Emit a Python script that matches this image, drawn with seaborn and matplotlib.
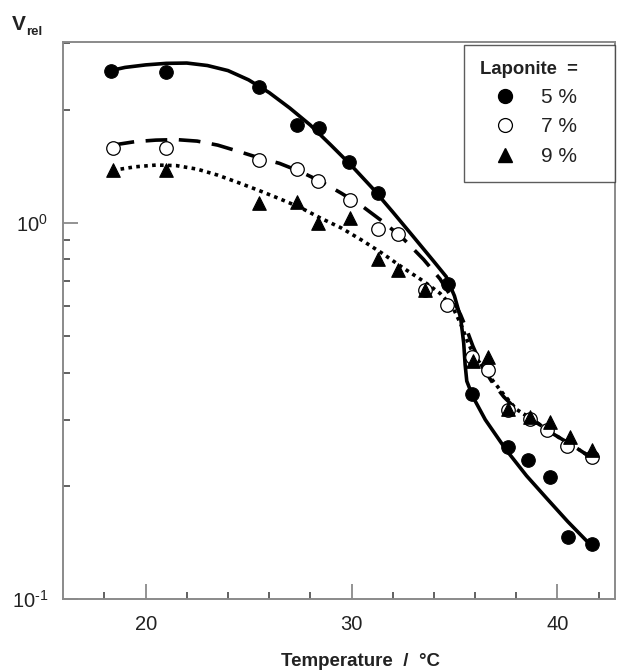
import numpy as np
import pandas as pd
import matplotlib
matplotlib.use("Agg")
import matplotlib.pyplot as plt
from matplotlib.lines import Line2D
from matplotlib.ticker import FixedLocator, NullFormatter
import seaborn as sns

# ---------------- data ----------------
t5 = [18.33, 21.0, 25.5, 27.36, 28.43, 29.9, 31.3, 34.7, 35.83, 37.62, 38.59, 39.64, 40.53, 41.67]
v5 = [2.54, 2.52, 2.30, 1.82, 1.79, 1.45, 1.20, 0.69, 0.352, 0.254, 0.234, 0.211, 0.146, 0.140]

t7 = [18.41, 20.97, 25.51, 27.36, 28.38, 29.92, 31.29, 32.27, 33.56, 34.62, 35.83, 36.64, 37.62, 38.67, 39.48, 40.45, 41.67]
v7 = [1.58, 1.58, 1.47, 1.39, 1.29, 1.15, 0.966, 0.937, 0.662, 0.604, 0.44, 0.406, 0.318, 0.302, 0.281, 0.256, 0.239]

t9 = [18.41, 20.97, 25.51, 27.36, 28.38, 29.92, 31.29, 32.27, 33.56, 35.91, 36.64, 37.62, 38.67, 39.64, 40.61, 41.67]
v9 = [1.38, 1.38, 1.13, 1.14, 1.00, 1.03, 0.804, 0.749, 0.662, 0.431, 0.44, 0.32, 0.305, 0.296, 0.270, 0.249]

# fitted curves
ct5 = [18.3, 19.0, 20.0, 21.0, 22.0, 23.0, 24.0, 25.0, 26.0, 27.0, 28.0, 29.0, 30.0, 31.0, 32.0, 33.0,
       34.0, 34.6, 35.0, 35.3, 35.45, 35.52, 35.6, 35.9, 36.5, 37.5, 38.5, 39.5, 40.5, 41.75]
cv5 = [2.54, 2.59, 2.63, 2.655, 2.66, 2.62, 2.54, 2.40, 2.22, 2.02, 1.82, 1.61, 1.42, 1.24, 1.07, 0.92,
       0.79, 0.72, 0.64, 0.56, 0.48, 0.42, 0.38, 0.345, 0.30, 0.25, 0.213, 0.185, 0.161, 0.137]

ct7 = [18.4, 19.5, 20.5, 21.5, 22.5, 23.5, 24.5, 25.5, 26.5, 27.5, 28.5, 29.5, 30.5, 31.5, 32.5, 33.5,
       34.3, 34.9, 35.3, 35.6, 35.9, 36.3, 36.8, 37.4, 38.0, 38.8, 39.8, 40.8, 41.75]
cv7 = [1.61, 1.645, 1.66, 1.665, 1.65, 1.61, 1.55, 1.49, 1.44, 1.37, 1.29, 1.20, 1.11, 1.01, 0.91, 0.80,
       0.71, 0.63, 0.57, 0.52, 0.47, 0.42, 0.38, 0.345, 0.32, 0.30, 0.275, 0.255, 0.236]

ct9 = [18.4, 19.5, 20.5, 21.5, 22.5, 23.5, 24.5, 25.5, 26.5, 27.5, 28.5, 29.5, 30.5, 31.5, 32.5, 33.5,
       34.3, 34.9, 35.3, 35.6, 35.9, 36.3, 36.8, 37.4, 38.0, 38.8, 39.8, 40.8, 41.75]
cv9 = [1.38, 1.41, 1.425, 1.42, 1.39, 1.34, 1.28, 1.22, 1.16, 1.10, 1.03, 0.97, 0.90, 0.83, 0.76, 0.70,
       0.65, 0.60, 0.54, 0.49, 0.45, 0.42, 0.385, 0.35, 0.32, 0.30, 0.275, 0.255, 0.236]

legend_labels = ["5 %", "7 %", "9 %"]
legend_title = "Laponite  ="
xlabel = "Temperature  /  °C"
xticks = [20, 30, 40]
yticks = [0.1, 1.0]
ytick_labels = [r"10$^{\text{-}1}$", "10$^{0}$"]

# ---------------- figure ----------------
sns.set_theme(style="white")
plt.rcParams["font.family"] = ["Liberation Sans", "DejaVu Sans"]
plt.rcParams["mathtext.fontset"] = "custom"
plt.rcParams["mathtext.rm"] = "Liberation Sans"
plt.rcParams["mathtext.it"] = "Liberation Sans"

fig = plt.figure(figsize=(6.17, 6.70), dpi=100)
ax = fig.add_axes([63.3 / 617, 1 - 599.3 / 670, (615 - 63.3) / 617, (599.3 - 42.3) / 670])

txt = "#222222"
lw_curve = 2.6

sns.lineplot(x=ct5, y=cv5, ax=ax, color="black", lw=lw_curve, sort=False, estimator=None)
sns.lineplot(x=ct7, y=cv7, ax=ax, color="black", lw=lw_curve, sort=False, estimator=None)
ax.lines[-1].set_dashes([6, 3.2])
sns.lineplot(x=ct9, y=cv9, ax=ax, color="black", lw=lw_curve, sort=False, estimator=None)
ax.lines[-1].set_linestyle((0, (1.0, 1.2)))
for ln in ax.lines:
    ln.set_solid_joinstyle("round")
    ln.set_dash_joinstyle("round")

ms = 95
sns.scatterplot(x=t5, y=v5, ax=ax, marker="o", s=ms, color="black", edgecolor="black", linewidth=0.8, zorder=5)
sns.scatterplot(x=t7, y=v7, ax=ax, marker="o", s=ms, facecolor="white", edgecolor="black", linewidth=0.9, zorder=5)
sns.scatterplot(x=t9, y=v9, ax=ax, marker="^", s=ms, color="black", edgecolor="black", linewidth=0.8, zorder=5)

ax.set_yscale("log")
ax.set_xlim(16, 42.8)
ax.set_ylim(0.1, 3.02)

ax.set_xticks(xticks)
ax.set_xticklabels([str(t) for t in xticks])
ax.xaxis.set_minor_locator(FixedLocator(list(range(18, 43, 2))))
ax.set_yticks(yticks)
ax.set_yticklabels(ytick_labels)
ax.yaxis.set_minor_locator(FixedLocator([0.2, 0.3, 0.4, 0.5, 0.6, 0.7, 0.8, 0.9, 2.0, 3.0]))
ax.yaxis.set_minor_formatter(NullFormatter())

spine_c = "#8a8a8a"
for s in ax.spines.values():
    s.set_color(spine_c)
    s.set_linewidth(1.4)

ax.tick_params(axis="both", which="major", direction="in", length=11, width=1.3, color=spine_c,
               labelsize=14.5, labelcolor=txt, pad=11)
ax.tick_params(axis="both", which="minor", direction="in", length=5, width=1.3, color="#555555")
ax.tick_params(axis="x", which="both", bottom=True, top=False)
ax.tick_params(axis="y", which="both", left=True, right=False)

ax.set_xlabel(xlabel, fontsize=13.5, fontweight="bold", color=txt)
ax.xaxis.set_label_coords(0.538, -0.097)
ax.set_ylabel("")

fig.text(12 / 617, 1 - 30 / 670, "V", fontsize=15, fontweight="bold", color=txt, ha="left", va="baseline")
fig.text(26 / 617, 1 - 35 / 670, "rel", fontsize=9.5, fontweight="bold", color=txt, ha="left", va="baseline")

handles = [
    Line2D([], [], ls="none", marker="o", ms=10, mfc="black", mec="black"),
    Line2D([], [], ls="none", marker="o", ms=10, mfc="white", mec="black", mew=0.9),
    Line2D([], [], ls="none", marker="^", ms=10, mfc="black", mec="black"),
]
leg = ax.legend(handles, legend_labels, title=legend_title, loc="upper left",
                bbox_to_anchor=(464 / 617, 1 - 180 / 670, 151 / 617, 135 / 670),
                bbox_transform=fig.transFigure, mode="expand",
                borderaxespad=0, frameon=True, fancybox=False, prop={"size": 15},
                title_fontproperties={"weight": "bold", "size": 13.3},
                handletextpad=0.55, labelspacing=0.5, borderpad=0.75, handlelength=2.4)
leg.get_frame().set_edgecolor("#333333")
leg.get_frame().set_linewidth(1.0)
leg._legend_box.align = "left"
for t in leg.get_texts():
    t.set_color(txt)
leg.get_title().set_color(txt)

fig.savefig("out.png", dpi=100)
